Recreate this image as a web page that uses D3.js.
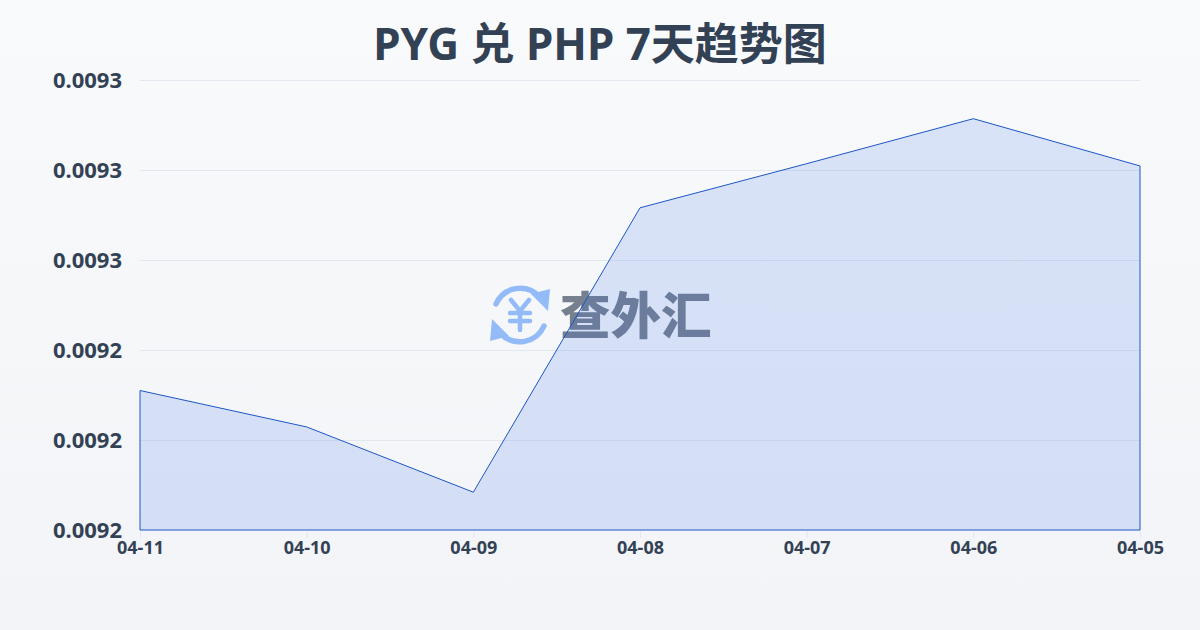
<!DOCTYPE html>
<html><head><meta charset="utf-8">
<script src="https://cdn.jsdelivr.net/npm/d3@7"></script>
<style>html,body{margin:0;padding:0;width:1200px;height:630px;overflow:hidden}svg{display:block}</style>
</head><body><svg id="c" width="1200" height="630"></svg>
<script>
const titleText = "PYG 兑 PHP 7天趋势图";
const dates = ["04-11","04-10","04-09","04-08","04-07","04-06","04-05"];
const rates = [0.009231,0.0092229,0.0092084,0.0092716,0.0092814,0.0092914,0.0092809];
const yTicks = [0.0092,0.00922,0.00924,0.00926,0.00928,0.0093];
const watermark = "查外汇";
const font = "'Noto Sans','Noto Sans CJK SC',sans-serif";

const svg = d3.select("#c");
const defs = svg.append("defs");
const g = defs.append("linearGradient").attr("id","bg").attr("x1",0).attr("y1",0).attr("x2",0).attr("y2",1);
g.append("stop").attr("offset",0).attr("stop-color","#f8fafc");
g.append("stop").attr("offset",1).attr("stop-color","#f2f4f7");
svg.append("rect").attr("width",1200).attr("height",630).attr("fill","url(#bg)");

const x = d3.scalePoint().domain(dates).range([140,1140]);
const y = d3.scaleLinear().domain([0.0092,0.0093]).range([530,80]);

svg.append("text").attr("x",600).attr("y",60).attr("text-anchor","middle")
  .attr("font-family",font).attr("font-weight",700).attr("font-size",44).attr("fill","#334155").text(titleText);

const yAxis = svg.append("g").attr("transform","translate(140,0)")
  .call(d3.axisLeft(y).tickValues(yTicks).tickFormat(d3.format(".4f")).tickSize(0).tickPadding(18));
yAxis.select(".domain").remove();
yAxis.selectAll("text").attr("font-family",font).attr("font-weight",700).attr("font-size",22).attr("fill","#334155");
yAxis.selectAll(".tick").filter(d=>d>yTicks[0]).append("line").attr("x2",1000).attr("stroke","#e2e8f0").attr("stroke-width",1);

const xAxis = svg.append("g").attr("transform","translate(0,530)")
  .call(d3.axisBottom(x).tickSize(8).tickPadding(3));
xAxis.select(".domain").remove();
xAxis.selectAll("line").attr("stroke","#e2e8f0");
xAxis.selectAll("text").attr("font-family",font).attr("font-weight",700).attr("font-size",18).attr("fill","#334155");

// watermark
const wm = svg.append("g");
const ic = wm.append("g").attr("transform","translate(520,315)").attr("fill","none").attr("stroke","#93bbf8").attr("stroke-linecap","round");
ic.append("path").attr("stroke-width",5.5).attr("d","M-24,-11 A26.5,26.5 0 0 1 19,-19");
ic.append("path").attr("stroke-width",5.5).attr("d","M24,11 A26.5,26.5 0 0 1 -19,19");
ic.append("path").attr("fill","#93bbf8").attr("stroke","none").attr("d","M11,-21 L30,-26 L28,-4 Z");
ic.append("path").attr("fill","#93bbf8").attr("stroke","none").attr("d","M-11,21 L-30,26 L-28,4 Z");
ic.append("path").attr("stroke-width",4.5).attr("d","M-9,-15 L0,-4 L9,-15 M0,-4 V15 M-10,-2 H10 M-10,6 H10");
wm.append("text").attr("x",560).attr("y",334).attr("font-family","'Noto Sans CJK SC',sans-serif").attr("font-weight",900)
  .attr("font-size",50.5).attr("fill","#6b7585").attr("fill-opacity",0.92).text(watermark);

const area = d3.area().x((d,i)=>x(dates[i])).y0(y(0.0092)).y1(d=>y(d));
svg.append("path").datum(rates).attr("d",area).attr("fill","#2563eb").attr("fill-opacity",0.15)
  .attr("stroke","#1d56c4").attr("stroke-width",1);
</script></body></html>
